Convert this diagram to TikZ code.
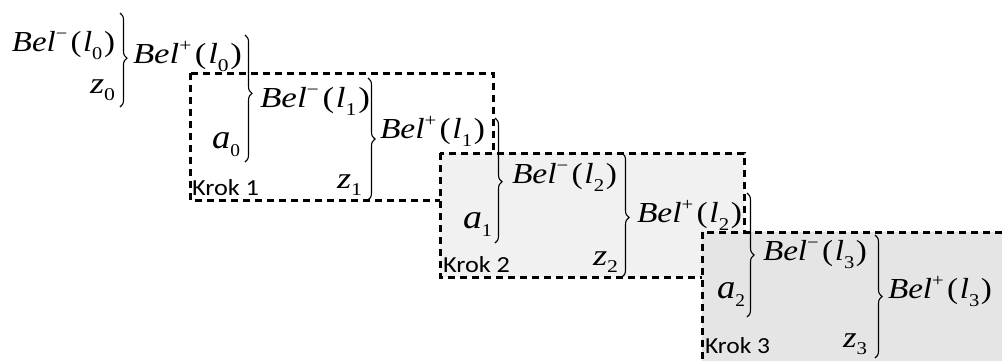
\documentclass[tikz,border=0pt]{standalone}
\usepackage{fontspec}
\setmainfont{Liberation Serif}
\newfontfamily\krokfont{Carlito}
\usepackage{graphicx}
\usetikzlibrary{decorations.pathreplacing}
\definecolor{boxA}{gray}{0.945}
\definecolor{boxB}{gray}{0.90}
\newcommand{\smallsz}{\fontsize{18}{18}\selectfont}
\newcommand{\Belx}[2]{{\fontsize{29}{32}\selectfont{\itshape Bel}\raisebox{0.38em}{\smallsz #1}\hspace{0.1em}(\hspace{0.05em}{\itshape l}\raisebox{-0.28em}{\smallsz #2}\hspace{0.05em})}}
\newcommand{\varx}[2]{{\fontsize{34}{36}\selectfont{\itshape #1}\raisebox{-0.25em}{\smallsz #2}}}
\newcommand{\zvar}[1]{{\fontsize{30}{32}\selectfont{\itshape z}\raisebox{-0.25em}{\smallsz #1}}}
\newcommand{\fitw}[2]{\resizebox{#1pt}{\height}{#2}}
\newcommand{\krok}[1]{{\krokfont\fontsize{23}{26}\selectfont Krok #1}}
\tikzset{
  lbl/.style={anchor=base west, inner sep=0pt, outer sep=0pt},
  stepbox/.style={draw=black, line width=3pt, dash pattern=on 7pt off 5pt},
  brc/.style={decorate, decoration={brace, amplitude=7pt, aspect=#1}, line width=1.1pt},
  brc/.default=0.5
}
\begin{document}
\begin{tikzpicture}[x=1pt, y=-1pt]
\useasboundingbox (0,0) rectangle (1002,360);
\clip (0,0) rectangle (1002,360);
% step boxes
\draw[stepbox, fill=white] (190,73) rectangle (493,200);
\draw[stepbox, fill=boxA] (440,153) rectangle (744,277);
\draw[stepbox, fill=boxB] (702,232) rectangle (1015,375);
% step 0
\node[lbl] (bm0) at (12,51) {\fitw{103}{\Belx{−}{0}}};
\node[lbl] (z0) at (90,93) {\fitw{25}{\zvar{0}}};
\draw[brc=0.48] (120,13) -- (120,107);
\node[lbl] (bp0) at (133,63) {\fitw{109}{\Belx{+}{0}}};
\draw[brc=0.46] (245,35) -- (245,162);
% step 1
\node[lbl] (a0) at (212,148) {\fitw{28}{\varx{a}{0}}};
\node[lbl] (bm1) at (260,107) {\fitw{110}{\Belx{−}{1}}};
\node[lbl] (z1) at (337,188) {\fitw{25}{\zvar{1}}};
\draw[brc=0.5] (368,78) -- (368,200);
\node[lbl] (bp1) at (380,138) {\fitw{105}{\Belx{+}{1}}};
\node[lbl] (k1) at (192,195) {\fitw{67}{\krok{1}}};
\draw[brc=0.51] (495,118) -- (495,243);
% step 2
\node[lbl] (a1) at (463,228) {\fitw{29}{\varx{a}{1}}};
\node[lbl] (bm2) at (512,183) {\fitw{105}{\Belx{−}{2}}};
\node[lbl] (z2) at (593,265) {\fitw{25}{\zvar{2}}};
\draw[brc=0.52] (622,153) -- (622,277);
\node[lbl] (bp2) at (637,222) {\fitw{105}{\Belx{+}{2}}};
\node[lbl] (k2) at (443,272) {\fitw{67}{\krok{2}}};
\draw[brc=0.5] (747,193) -- (747,317);
% step 3
\node[lbl] (a2) at (717,298) {\fitw{28}{\varx{a}{2}}};
\node[lbl] (bm3) at (763,260) {\fitw{104}{\Belx{−}{3}}};
\node[lbl] (z3) at (843,347) {\fitw{24}{\zvar{3}}};
\draw[brc=0.5] (875,235) -- (875,358);
\node[lbl] (bp3) at (888,298) {\fitw{104}{\Belx{+}{3}}};
\node[lbl] (k3) at (705,353) {\fitw{65}{\krok{3}}};
\end{tikzpicture}
\end{document}
